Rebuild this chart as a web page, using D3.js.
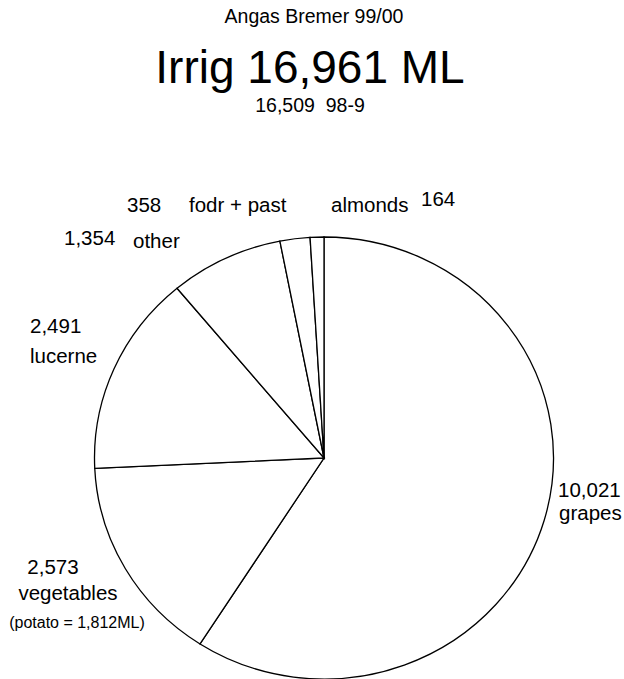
<!DOCTYPE html>
<html>
<head>
<meta charset="utf-8">
<script src="https://cdn.jsdelivr.net/npm/d3@7"></script>
<style>
  body { margin: 0; background: #fff; }
  text { font-family: "Liberation Sans", Arial, sans-serif; fill: #000; white-space: pre; }
</style>
</head>
<body>
<script>
// data, clockwise from 12 o'clock
var crops = ['grapes', 'vegetables', 'lucerne', 'other', 'fodr + past', 'almonds'];
var usage = [10021, 2573, 2491, 1354, 358, 164];
var valueText = ['10,021', '2,573', '2,491', '1,354', '358', '164'];

var title = 'Angas Bremer 99/00';
var headline = 'Irrig 16,961 ML';
var previous = '16,509  98-9';
var vegNote = '(potato = 1,812ML)';

var width = 624, height = 679;
var cx = 324, cy = 458, rx = 229.5, ry = 221;

var svg = d3.select('body').append('svg')
  .attr('width', width)
  .attr('height', height);

// titles
svg.append('text').attr('x', 314).attr('y', 23)
  .attr('text-anchor', 'middle').style('font-size', '19.5px').text(title);
svg.append('text').attr('x', 310).attr('y', 83)
  .attr('text-anchor', 'middle').style('font-size', '46px').text(headline);
svg.append('text').attr('x', 310).attr('y', 112)
  .attr('text-anchor', 'middle').style('font-size', '19.5px').text(previous);

// pie, stretched a little sideways like the original
var pie = d3.pie().sort(null).value(function(d) { return d; });
var arc = d3.arc().innerRadius(0).outerRadius(ry);

var g = svg.append('g')
  .attr('transform', 'translate(' + cx + ',' + cy + ') scale(' + (rx / ry) + ',1)');

g.selectAll('path')
  .data(pie(usage))
  .enter().append('path')
  .attr('d', arc)
  .attr('fill', '#fff')
  .attr('stroke', '#000')
  .attr('stroke-width', 1.3)
  .attr('vector-effect', 'non-scaling-stroke');

// label layout: [value x, value y, name x, name y, anchor]
var labelPos = {
  'grapes':      [558, 497, 559, 520, 'start'],
  'vegetables':  [53, 574, 68, 600, 'middle'],
  'lucerne':     [30, 333, 30, 363, 'start'],
  'other':       [64, 245, 133, 248, 'start'],
  'fodr + past': [127, 212, 189, 212, 'start'],
  'almonds':     [421, 206, 331, 212, 'start']
};

crops.forEach(function(name, i) {
  var p = labelPos[name];
  svg.append('text').attr('x', p[0]).attr('y', p[1])
    .attr('text-anchor', p[4]).style('font-size', '20.5px').text(valueText[i]);
  svg.append('text').attr('x', p[2]).attr('y', p[3])
    .attr('text-anchor', p[4]).style('font-size', '20.5px').text(name);
});

svg.append('text').attr('x', 77).attr('y', 628)
  .attr('text-anchor', 'middle').style('font-size', '16px').text(vegNote);
</script>
</body>
</html>
